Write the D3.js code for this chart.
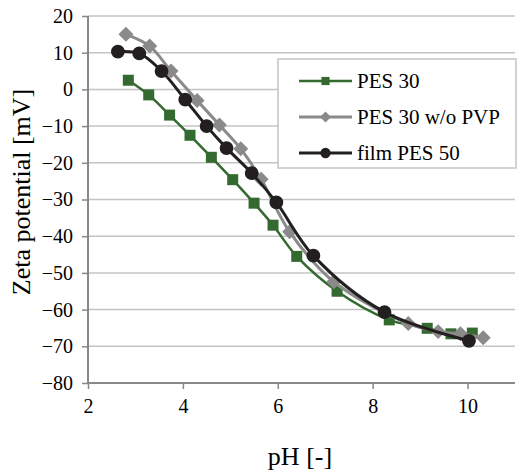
<!DOCTYPE html>
<html>
<head>
<meta charset="utf-8">
<script src="https://cdn.jsdelivr.net/npm/d3@7"></script>
<style>
  body { margin: 0; background: #fff; }
</style>
</head>
<body>
<div id="chart"></div>
<script>
// data: [pH, zeta potential]
const pes30 = [[2.85, 2.5], [3.28, -1.5], [3.72, -7], [4.15, -12.5], [4.6, -18.5], [5.05, -24.6],
  [5.5, -31], [5.9, -37], [6.4, -45.5], [7.25, -55], [8.35, -62.8], [9.15, -65.1], [9.65, -66.6], [10.1, -66.4]];
const pes30noPvp = [[2.8, 15], [3.3, 11.8], [3.75, 5], [4.3, -3], [4.77, -9.7], [5.22, -16.2], [5.65, -24.5],
  [6.25, -38.8], [7.18, -52.4], [8.75, -63.8], [9.38, -66], [9.85, -66.6], [10.33, -67.7]];
const film50 = [[2.63, 10.3], [3.08, 9.8], [3.55, 5], [4.05, -2.8], [4.5, -10], [4.92, -16], [5.45, -22.8],
  [5.97, -30.8], [6.75, -45.3], [8.25, -60.7], [10.03, -68.5]];

const seriesNames = ["PES 30", "PES 30 w/o PVP", "film PES 50"];
const xTicks = [2, 4, 6, 8, 10];
const yTicks = [20, 10, 0, -10, -20, -30, -40, -50, -60, -70, -80];

const serif = "'Liberation Serif', 'Times New Roman', serif";

const width = 520, height = 475;
const margin = {top: 16, right: 5, bottom: 92, left: 88};

const svg = d3.select("#chart").append("svg")
  .attr("width", width)
  .attr("height", height)
  .style("font-family", serif);

const x = d3.scaleLinear().domain([2, 11]).range([margin.left, width - margin.right]);
const y = d3.scaleLinear().domain([-80, 20]).range([height - margin.bottom, margin.top]);

// gridlines
svg.append("g").selectAll("line")
  .data(yTicks.filter(d => d > -80))
  .enter().append("line")
  .attr("x1", x(2)).attr("x2", x(11))
  .attr("y1", d => y(d)).attr("y2", d => y(d))
  .attr("stroke", "#c4c4c4")
  .attr("stroke-width", 1.5);

// axes
const gx = svg.append("g")
  .attr("transform", `translate(0,${y(-80)})`)
  .call(d3.axisBottom(x).tickValues(xTicks).tickSize(6).tickPadding(10).tickFormat(d3.format("d")));
const gy = svg.append("g")
  .attr("transform", `translate(${x(2)},0)`)
  .call(d3.axisLeft(y).tickValues(yTicks).tickSize(6).tickPadding(9).tickFormat(d3.format("d")));

[gx, gy].forEach(g => {
  g.attr("font-family", null).attr("font-size", null);
  g.select(".domain").attr("stroke", "#888").attr("stroke-width", 2);
  g.selectAll(".tick line").attr("stroke", "#888").attr("stroke-width", 1.5);
  g.selectAll(".tick text")
    .attr("font-family", serif)
    .attr("font-size", 20)
    .attr("fill", "#000");
});
gx.select(".domain").attr("d", `M${x(2)},0H${x(11)}`);
gy.select(".domain").attr("d", `M0,${y(-80)}V${y(20)}`);

// axis titles
svg.append("text")
  .attr("x", 300).attr("y", 465)
  .attr("text-anchor", "middle")
  .attr("font-family", serif)
  .attr("font-size", 26)
  .text("pH [-]");
svg.append("text")
  .attr("transform", `translate(30,192) rotate(-90)`)
  .attr("text-anchor", "middle")
  .attr("font-family", serif)
  .attr("font-size", 26)
  .text("Zeta potential [mV]");

const line = d3.line()
  .x(d => x(d[0]))
  .y(d => y(d[1]))
  .curve(d3.curveCatmullRom.alpha(0.5));

// diamond = square turned 45 degrees
const styles = [
  {data: pes30, color: "#346a2f", width: 2.5, shape: d3.symbolSquare, size: 121, rot: 0},
  {data: pes30noPvp, color: "#8a8a8a", width: 3, shape: d3.symbolSquare, size: 112, rot: 45},
  {data: film50, color: "#231f20", width: 3, shape: d3.symbolCircle, size: 150, rot: 0}
];

styles.forEach(s => {
  svg.append("path")
    .datum(s.data)
    .attr("fill", "none")
    .attr("stroke", s.color)
    .attr("stroke-width", s.width)
    .attr("d", line);
  svg.append("g").selectAll("path")
    .data(s.data)
    .enter().append("path")
    .attr("transform", d => `translate(${x(d[0])},${y(d[1])}) rotate(${s.rot})`)
    .attr("d", d3.symbol().type(s.shape).size(s.size))
    .attr("fill", s.color);
});

// legend
const legend = svg.append("g");
legend.append("rect")
  .attr("x", 278).attr("y", 59)
  .attr("width", 238).attr("height", 109)
  .attr("fill", "#fff")
  .attr("stroke", "#c4c4c4")
  .attr("stroke-width", 1.5);

styles.forEach((s, i) => {
  const ly = 81 + i * 36;
  legend.append("line")
    .attr("x1", 299).attr("x2", 352)
    .attr("y1", ly).attr("y2", ly)
    .attr("stroke", s.color)
    .attr("stroke-width", s.width);
  legend.append("path")
    .attr("transform", `translate(325.5,${ly}) rotate(${s.rot})`)
    .attr("d", d3.symbol().type(s.shape).size(s.size * 0.55))
    .attr("fill", s.color);
  legend.append("text")
    .attr("x", 357).attr("y", ly + 7)
    .attr("font-family", serif)
    .attr("font-size", 21)
    .text(seriesNames[i]);
});
</script>
</body>
</html>
